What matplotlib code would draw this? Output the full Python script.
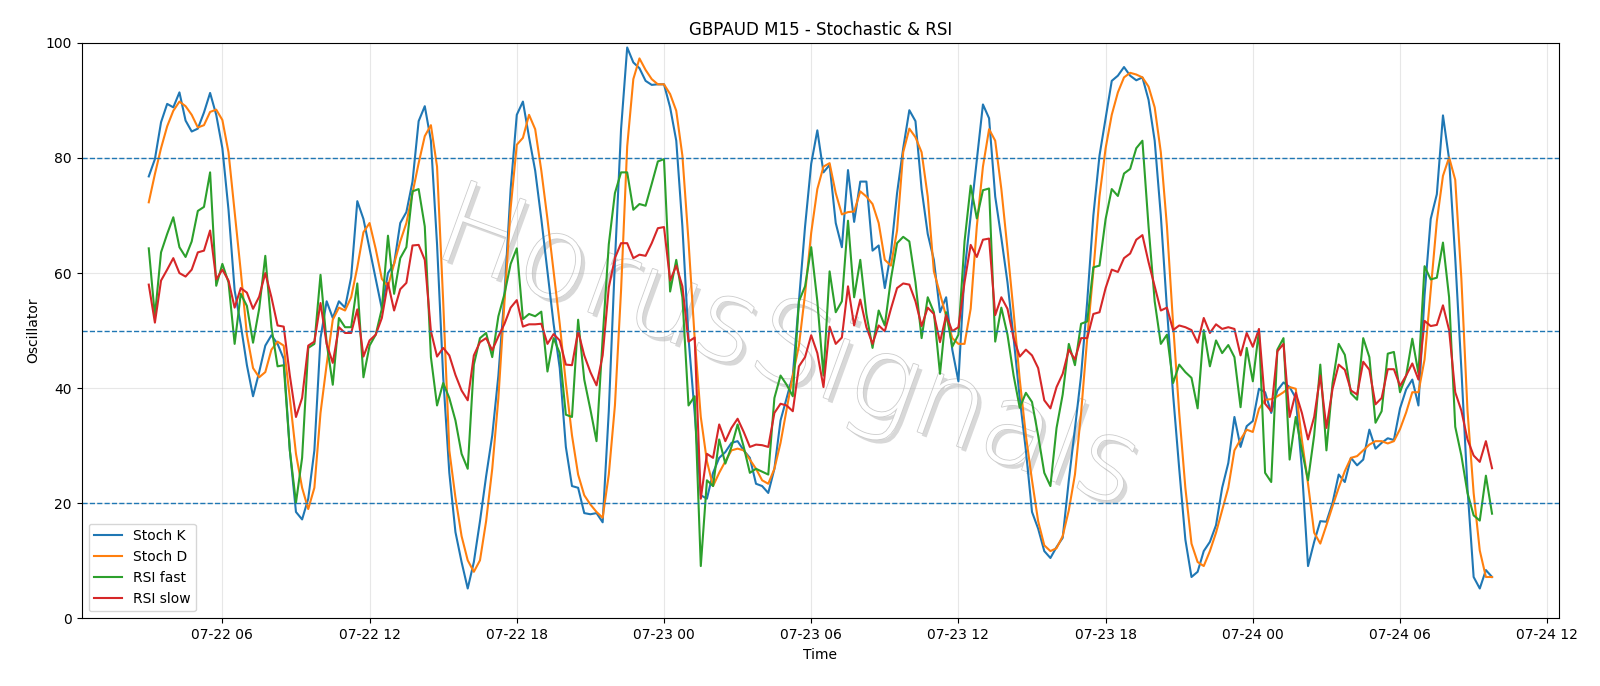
import numpy as np
import pandas as pd
import matplotlib
matplotlib.use('Agg')
import matplotlib.pyplot as plt
import matplotlib.dates as mdates
import matplotlib.patheffects as pe

# 15-minute bars, GBPAUD
times = pd.date_range('2025-07-22 03:00', periods=220, freq='15min')

stoch_k = [76.8, 79.8, 86.2, 89.4, 88.8, 91.4, 86.5, 84.6, 85.1, 87.9, 91.3, 87.5, 81.7, 71, 57, 51, 44, 38.6, 42.8, 47.4,
           49.2, 47.7, 45.1, 29.2, 18.5, 17.2, 20.8, 29.2, 48.7, 55.1, 52.2, 55.1, 54, 59.3, 72.5, 69.4, 64.2, 59, 53.8, 60,
           61.6, 68.7, 70.6, 75.9, 86.4, 89, 83, 65, 42, 25.3, 15, 9.8, 5.2, 9.8, 16.9, 24.7, 31.8, 42.2, 56.4, 74.6,
           87.5, 89.8, 83.6, 77.8, 69.4, 60.3, 51.2, 43.5, 29.8, 23.0, 22.7, 18.3, 18.1, 18.3, 16.7, 36, 62, 85, 99.2, 96.6,
           95.6, 93.4, 92.7, 92.8, 92.8, 88.8, 83, 68.1, 48.7, 35.7, 21.4, 20.8, 25.3, 27.9, 28.9, 30.5, 30.8, 29.2, 27.9, 23.4,
           23, 21.8, 26, 34.4, 38.3, 42.2, 55.1, 68.1, 79, 84.8, 77.5, 78.8, 68.7, 64.5, 77.9, 68.9, 75.9, 75.9, 63.9, 64.8,
           57.4, 63.6, 73.9, 81.7, 88.3, 86.4, 74.6, 66.8, 62.3, 53.2, 55.8, 46.7, 41.2, 60.3, 70, 79.8, 89.3, 86.9, 73.3, 66.1,
           58.4, 48.7, 38.3, 29.2, 18.5, 15.6, 11.7, 10.5, 12.4, 14, 24, 33, 42.2, 55.1, 70, 80.4, 86.9, 93.4, 94.3, 95.8,
           94.3, 93.5, 94, 90.1, 83, 70, 53.8, 38.9, 26, 13.7, 7.2, 8.1, 11.7, 13.3, 16.2, 22.7, 27, 35, 29.8, 33.4,
           34.3, 39.9, 39.3, 35.7, 39.6, 41, 40.2, 38.3, 26, 9.1, 13.3, 16.9, 16.8, 20.1, 25, 23.7, 27.9, 26.6, 27.6, 32.8,
           29.5, 30.5, 31.3, 31, 36.5, 39.8, 41.5, 37, 56.2, 69.4, 73.7, 87.4, 79.8, 62.6, 43.3, 22.5, 7.2, 5.2, 8.4, 7.2]

stoch_d = [72.3, 77.2, 81.7, 85.5, 88.2, 89.8, 89, 87.5, 85.3, 85.7, 88, 88.4, 86.6, 81, 70.7, 60.3, 49.3, 43.5, 41.9, 42.8,
           46.7, 48.1, 47.4, 38.3, 28.6, 22.7, 19, 22.7, 35.7, 44.1, 51.9, 54, 53.5, 55.8, 61, 67.1, 68.7, 64.2, 59, 57.7,
           61.6, 65.5, 68.7, 73.9, 79.1, 83.8, 85.7, 78.5, 55.1, 29.2, 21, 14.3, 10.1, 8.1, 10.1, 16.9, 26, 38.3, 55.1, 71.3,
           82.3, 83.5, 87.5, 85, 77.8, 69.4, 60.3, 51.2, 40.9, 31.8, 25, 21.4, 19.8, 18.5, 17.5, 25, 37, 57, 82, 93.7,
           97.3, 95.3, 93.7, 92.8, 92.8, 91.1, 88.2, 80.4, 65.5, 48.7, 35, 27.3, 23, 25.3, 27.3, 29.2, 29.5, 29.2, 27.6, 26,
           24, 23.4, 26, 30.5, 36.4, 42.2, 47.4, 56.4, 67, 74.6, 78.5, 79.1, 73.9, 70.2, 70.6, 70.7, 74.2, 73.3, 72, 68.7,
           62.3, 61.3, 67.4, 81, 85.1, 83.6, 81, 73.3, 60.3, 56.4, 52.5, 48.7, 47.7, 47.7, 53.8, 68.1, 78.5, 85, 83, 74.6,
           64.2, 53.2, 41.5, 31.8, 24, 16.9, 12.7, 11.7, 12.2, 14.3, 18.8, 25, 35.7, 48.7, 60.3, 73.3, 81.7, 87.5, 91.4, 94,
           94.8, 94.5, 94, 92.4, 88.8, 81, 68.1, 51.2, 35.7, 22.7, 13, 9.8, 9.1, 11.7, 14.9, 18.8, 22.7, 29.2, 31.1, 32.8,
           32.4, 36.4, 38, 38.1, 38.6, 39.3, 40.2, 39.9, 31, 23.4, 14.9, 13, 16.2, 19.5, 22.7, 25.6, 27.9, 28.2, 29.2, 30.2,
           30.8, 30.8, 30.4, 30.8, 32.9, 35.8, 39.3, 39.3, 45, 56.9, 69, 76.9, 80.1, 76.2, 59, 36.1, 21.8, 11.8, 7.2, 7.2]

rsi_fast = [64.3, 52.5, 63.6, 66.8, 69.7, 64.5, 62.8, 65.5, 70.8, 71.5, 77.5, 57.8, 61.6, 58.4, 47.7, 56.4, 54.3, 47.9, 53.8, 63,
            50.6, 43.8, 44, 29.2, 20.1, 27.9, 47, 47.7, 59.7, 47.9, 40.6, 52.2, 50.6, 50.6, 58.2, 41.9, 47.4, 49.3, 53.8, 66.5,
            56.4, 62.6, 64.5, 74.2, 74.6, 68.1, 45.4, 37, 40.9, 38.3, 34.4, 28.6, 26, 44.1, 48.7, 49.6, 45.4, 52.5, 56.4, 61.6,
            64.3, 52, 52.9, 52.5, 53.3, 42.9, 48.7, 46.1, 35.4, 35, 51.9, 41.5, 36.3, 30.8, 48.7, 65, 73.9, 77.5, 77.5, 71,
            72, 71.7, 75.5, 79.4, 79.8, 56.8, 62.3, 55.8, 37, 38.6, 9.1, 24, 23, 31.1, 26.9, 29.8, 33.7, 29.8, 25.3, 26,
            25.5, 25, 38.3, 42.2, 40.6, 38.6, 55.1, 57.7, 64.5, 55.1, 42.2, 60.3, 53.2, 55.1, 69.1, 55.8, 62.3, 52.9, 47, 53.5,
            50.9, 59, 65.2, 66.3, 65.5, 58.4, 48.7, 55.8, 53.2, 42.5, 53.2, 47.2, 49.3, 65.5, 75.2, 69.5, 74.4, 74.7, 48.1, 54,
            49.3, 42.2, 36.6, 39.2, 37.6, 31.8, 25.3, 23, 33.1, 38.9, 47.7, 44, 51.2, 51.6, 61, 61.3, 69.4, 74.6, 73.4, 77.3,
            78.1, 81.7, 83, 68.1, 55.1, 47.7, 49.3, 40.9, 44.1, 42.8, 41.8, 36.5, 50.1, 43.8, 48.3, 46.1, 47.5, 45.4, 36.7, 47,
            41.2, 50, 25.3, 23.7, 46.7, 48.7, 27.6, 35, 29.2, 24, 31.8, 44.1, 29.2, 40.9, 47.7, 45.8, 39.1, 38, 48.7, 45.4,
            34, 36, 46, 46.3, 39.3, 42.2, 48.6, 42.6, 61.2, 58.9, 59.2, 65.3, 55.8, 33.3, 28.3, 21.8, 17.9, 17, 24.8, 18.2]

rsi_slow = [58, 51.4, 58.7, 60.6, 62.6, 60, 59.4, 60.6, 63.6, 63.9, 67.4, 58.9, 60.6, 58.7, 54, 57.4, 56.6, 53.8, 55.9, 60,
            55.8, 50.9, 50.7, 42.2, 35, 38.3, 47.4, 48.1, 54.8, 47.7, 44.4, 50.6, 49.6, 49.6, 53.7, 45.5, 48.3, 49.3, 52.2, 58.3,
            53.5, 57.2, 58.3, 64.8, 64.9, 62.3, 49.9, 45.5, 47, 45.7, 42.3, 39.6, 37.9, 45.7, 48, 48.7, 46.6, 49, 51.2, 54,
            55.3, 50.7, 51.1, 51.1, 51.2, 47.7, 49.4, 48.3, 44.1, 44, 49.9, 45.7, 42.8, 40.5, 45.7, 57.5, 62.6, 65.2, 65.2, 62.6,
            63.2, 63, 65.2, 67.8, 68, 58.7, 61.3, 57.7, 48.1, 48.8, 20.8, 28.6, 27.9, 33.7, 30.8, 33.1, 34.7, 32.4, 29.8, 30.2,
            30.1, 29.8, 35.7, 37.3, 37, 36, 43.8, 45.4, 49.2, 46.1, 40.2, 50.7, 47.7, 48.8, 57.7, 50.9, 55.4, 50.6, 47.7, 50.9,
            49.9, 53.8, 57.4, 58.2, 58, 55.1, 50.8, 54, 52.9, 48, 52.7, 49.9, 50.6, 58.4, 64.9, 62.8, 65.8, 66, 52.7, 55.8,
            53.8, 48.7, 45.5, 46.7, 45.7, 43.5, 37.9, 36.5, 40.2, 42.5, 46.7, 45, 48.7, 48.7, 52.9, 53.2, 57.4, 60.6, 60.2, 62.6,
            63.4, 65.8, 66.6, 61.9, 57.7, 53.5, 54, 50.1, 50.9, 50.6, 50.1, 47.9, 52.2, 49.6, 51.1, 50.3, 50.6, 50.3, 45.7, 49.6,
            47.2, 50.3, 37.3, 36, 46.4, 47.7, 35, 39.2, 35.7, 31.1, 35, 42.2, 33.1, 39.9, 44.1, 43.2, 39.6, 38.9, 44.6, 43.2,
            37.2, 38.3, 43.3, 43.3, 40.4, 42.2, 44.3, 41.5, 51.7, 50.8, 51, 54.4, 50.1, 39.3, 36.1, 31.1, 28.3, 27.2, 30.8, 26.1]

levels = [20, 50, 80]

fig = plt.figure(figsize=(16, 6.86), dpi=100)
ax = fig.add_axes([0.051, 0.0985, 0.9235, 0.839])

ax.plot(times, stoch_k, label='Stoch K', lw=1.5)
ax.plot(times, stoch_d, label='Stoch D', lw=1.5)
ax.plot(times, rsi_fast, label='RSI fast', lw=1.5)
ax.plot(times, rsi_slow, label='RSI slow', lw=1.5)

for lv in levels:
    ax.axhline(lv, ls='--', lw=1, color='C0')

ax.set_ylim(0, 100)
ax.xaxis.set_major_locator(mdates.HourLocator(byhour=[0, 6, 12, 18]))
ax.xaxis.set_major_formatter(mdates.DateFormatter('%m-%d %H'))
ax.grid(alpha=0.3)

ax.set_title('GBPAUD M15 - Stochastic & RSI', fontsize=12)
ax.set_xlabel('Time')
ax.set_ylabel('Oscillator')
ax.legend(loc='lower left')

# watermark (thin, light, with a soft shadow)
ax.text(0.478, 0.465, 'HorusSignals', transform=ax.transAxes, fontsize=82,
        fontweight=200, color='white', rotation=-20, ha='center', va='center', zorder=0.6,
        path_effects=[pe.SimplePatchShadow(offset=(3, -3), shadow_rgbFace='gray', alpha=0.3),
                      pe.Stroke(linewidth=1.2, foreground='#cccccc'), pe.Normal()])

fig.savefig('out.png', dpi=100)
